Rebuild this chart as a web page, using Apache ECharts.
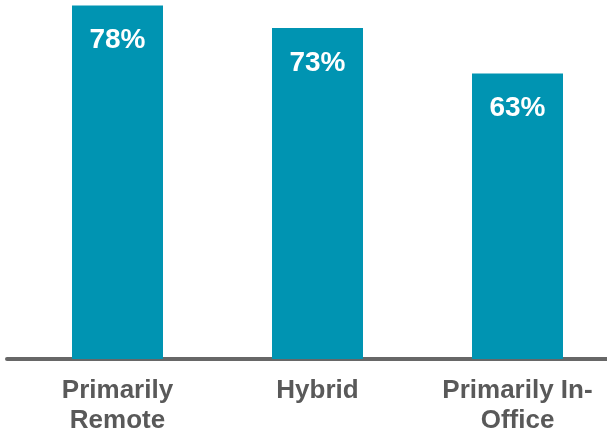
<!DOCTYPE html>
<html>
<head>
<meta charset="utf-8">
<script src="https://cdn.jsdelivr.net/npm/echarts@6/dist/echarts.min.js"></script>
<style>html,body{margin:0;padding:0;background:#fff}#c{width:607px;height:434px}</style>
</head>
<body>
<div id="c"></div>
<script>
var categories = ['Primarily\nRemote', 'Hybrid', 'Primarily In-\nOffice'];
var values = [78, 73, 63];
var positions = [0, 1, 2];

var chart = echarts.init(document.getElementById('c'), null, {renderer: 'canvas'});
chart.setOption({
  animation: false,
  backgroundColor: '#ffffff',
  grid: {left: 7, right: 0, top: 0, bottom: 75, containLabel: false, outerBoundsMode: 'none'},
  xAxis: {
    type: 'value',
    min: -0.5525,
    max: 2.4475,
    splitLine: {show: false},
    axisTick: {show: false},
    axisLine: {show: true, onZero: false, lineStyle: {color: '#676767', width: 4}},
    axisLabel: {
      customValues: positions,
      formatter: function (v) { return categories[Math.round(v)]; },
      color: '#595959',
      fontFamily: 'Liberation Sans, Arial, sans-serif',
      fontWeight: 'bold',
      fontSize: 26,
      lineHeight: 30,
      margin: 17
    }
  },
  yAxis: {
    type: 'value',
    min: 0,
    max: 79.2,
    show: false
  },
  series: [{
    type: 'bar',
    data: positions.map(function (p, i) { return [p, values[i]]; }),
    barWidth: 91,
    itemStyle: {color: '#0094B2'},
    label: {
      show: true,
      position: 'insideTop',
      distance: 21,
      formatter: function (p) { return p.value[1] + '%'; },
      color: '#ffffff',
      fontFamily: 'Liberation Sans, Arial, sans-serif',
      fontWeight: 'bold',
      fontSize: 28
    }
  }]
});
</script>
</body>
</html>
